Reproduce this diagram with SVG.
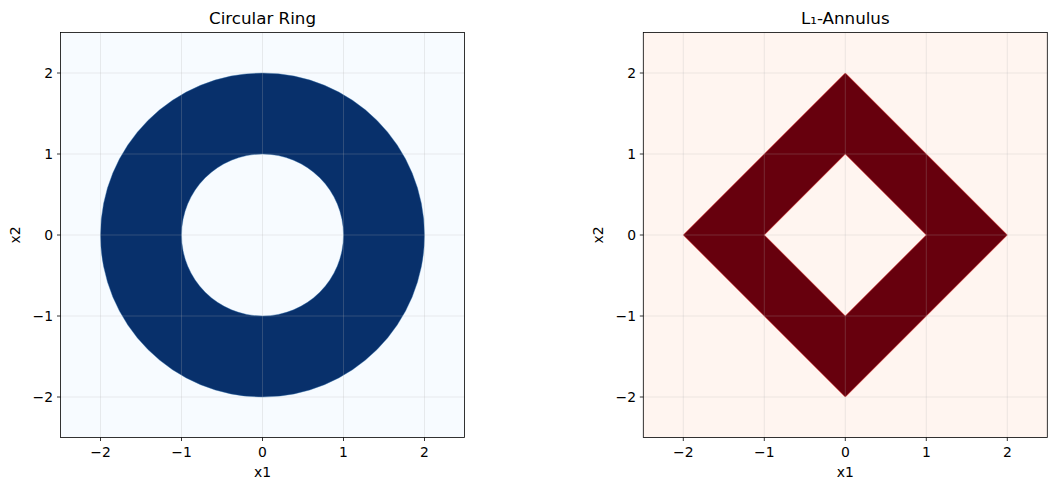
<svg xmlns="http://www.w3.org/2000/svg" width="1057" height="490" viewBox="0 0 1057 490">
<style>
text{font-family:"DejaVu Sans",sans-serif;fill:#000}
.tk{font-size:13.9px}
.lb{font-size:13.9px}
.tt{font-size:16.7px}
.grid{stroke:#b0b0b0;stroke-opacity:0.3;stroke-width:0.8;fill:none}
.spine{fill:none;stroke:#000;stroke-width:0.8}
.tick{stroke:#000;stroke-width:0.8}
</style>
<rect width="1057" height="490" fill="#ffffff"/>
<g id="left-axes">
<rect x="60.5" y="32.5" width="404" height="405" fill="#f7fbff"/>
<path id="ring" d="M424.5,235 A162,162 0 1,0 100.5,235 A162,162 0 1,0 424.5,235 Z M343.5,235 A81,81 0 1,0 181.5,235 A81,81 0 1,0 343.5,235 Z" fill="#08306b" fill-rule="evenodd" stroke="#2b6aa8" stroke-width="0.4"/>
<g class="grid">
<path d="M100.5,32.5V437.5M181.5,32.5V437.5M262.5,32.5V437.5M343.5,32.5V437.5M424.5,32.5V437.5"/>
<path d="M60.5,73H464.5M60.5,154H464.5M60.5,235H464.5M60.5,316H464.5M60.5,397H464.5"/>
</g>
<rect class="spine" x="60.5" y="32.5" width="404" height="405"/>
<path class="tick" d="M100.5,437.5v3.5M181.5,437.5v3.5M262.5,437.5v3.5M343.5,437.5v3.5M424.5,437.5v3.5M60.5,73h-3.5M60.5,154h-3.5M60.5,235h-3.5M60.5,316h-3.5M60.5,397h-3.5"/>
<g class="tk" text-anchor="middle">
<text x="100.5" y="457">−2</text><text x="181.5" y="457">−1</text><text x="262.5" y="457">0</text><text x="343.5" y="457">1</text><text x="424.5" y="457">2</text>
</g>
<g class="tk" text-anchor="end">
<text x="53" y="78">2</text><text x="53" y="159">1</text><text x="53" y="240">0</text><text x="53" y="321">−1</text><text x="53" y="402">−2</text>
</g>
<text class="lb" x="262.5" y="477" text-anchor="middle">x1</text>
<text class="lb" x="20" y="235" text-anchor="middle" transform="rotate(-90 20 235)">x2</text>
<text class="tt" x="262.5" y="24" text-anchor="middle">Circular Ring</text>
</g>
<g id="right-axes">
<rect x="643.3" y="32.5" width="404" height="405" fill="#fff5f0"/>
<path id="diamond" d="M845.3,73L1007.3,235L845.3,397L683.3,235Z M845.3,154L764.3,235L845.3,316L926.3,235Z" fill="#67000d" fill-rule="evenodd" stroke="#d42020" stroke-width="0.6"/>
<g class="grid">
<path d="M683.3,32.5V437.5M764.3,32.5V437.5M845.3,32.5V437.5M926.3,32.5V437.5M1007.3,32.5V437.5"/>
<path d="M643.3,73H1047.3M643.3,154H1047.3M643.3,235H1047.3M643.3,316H1047.3M643.3,397H1047.3"/>
</g>
<rect class="spine" x="643.3" y="32.5" width="404" height="405"/>
<path class="tick" d="M683.3,437.5v3.5M764.3,437.5v3.5M845.3,437.5v3.5M926.3,437.5v3.5M1007.3,437.5v3.5M643.3,73h-3.5M643.3,154h-3.5M643.3,235h-3.5M643.3,316h-3.5M643.3,397h-3.5"/>
<g class="tk" text-anchor="middle">
<text x="683.3" y="457">−2</text><text x="764.3" y="457">−1</text><text x="845.3" y="457">0</text><text x="926.3" y="457">1</text><text x="1007.3" y="457">2</text>
</g>
<g class="tk" text-anchor="end">
<text x="636" y="78">2</text><text x="636" y="159">1</text><text x="636" y="240">0</text><text x="636" y="321">−1</text><text x="636" y="402">−2</text>
</g>
<text class="lb" x="845.3" y="477" text-anchor="middle">x1</text>
<text class="lb" x="603" y="235" text-anchor="middle" transform="rotate(-90 603 235)">x2</text>
<text class="tt" x="845.3" y="24" text-anchor="middle">L₁-Annulus</text>
</g>
</svg>
